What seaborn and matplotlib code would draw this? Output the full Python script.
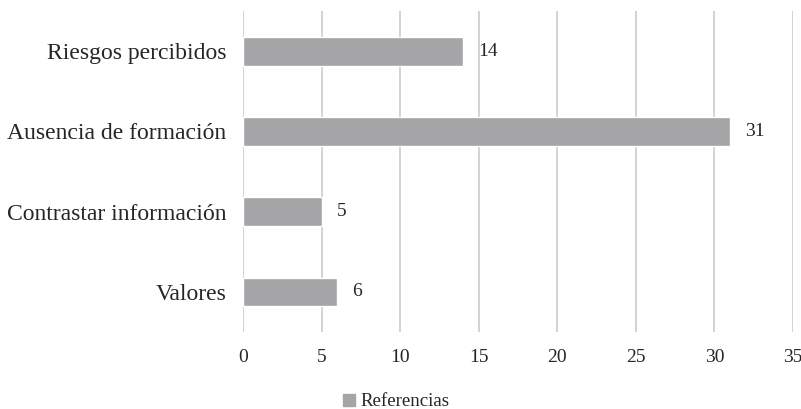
import pandas as pd
import seaborn as sns
import matplotlib.pyplot as plt
from matplotlib.patches import Patch

categorias = ['Riesgos percibidos', 'Ausencia de formación', 'Contrastar información', 'Valores']
referencias = [14, 31, 5, 6]
ticks = [0, 5, 10, 15, 20, 25, 30, 35]

GRAY = '#a5a5a7'

sns.set_style('white')
plt.rcParams['font.family'] = ['Liberation Serif', 'DejaVu Serif']

df = pd.DataFrame({'categoria': categorias, 'Referencias': referencias})

fig = plt.figure(figsize=(8.01, 4.09), dpi=100)
ax = fig.add_axes([0.3034, 0.188, 0.6866, 0.785])

sns.barplot(data=df, x='Referencias', y='categoria', orient='h',
            color=GRAY, width=0.36, saturation=1, ax=ax)

for i, v in enumerate(referencias):
    ax.text(v + 0.95, i, str(v), va='center', ha='left', fontsize=14, color='#262626')

ax.set_xlim(0, 35)
ax.set_xticks(ticks)
ax.set_ylim(3.5, -0.5)
ax.xaxis.grid(True, color='#d0d0d0', linewidth=1.3)
ax.set_axisbelow(True)
for s in ax.spines.values():
    s.set_visible(False)
ax.tick_params(axis='both', length=0, labelcolor='#262626')
ax.tick_params(axis='x', pad=12, labelsize=14)
ax.tick_params(axis='y', pad=12, labelsize=17)
ax.set_xlabel('')
ax.set_ylabel('')

fig.legend(handles=[Patch(color=GRAY, label='Referencias')], loc='lower center',
           bbox_to_anchor=(0.495, -0.045), frameon=False, fontsize=13.6,
           handlelength=0.6, handleheight=0.6, handletextpad=0.3)

fig.savefig('out.png', dpi=100)
